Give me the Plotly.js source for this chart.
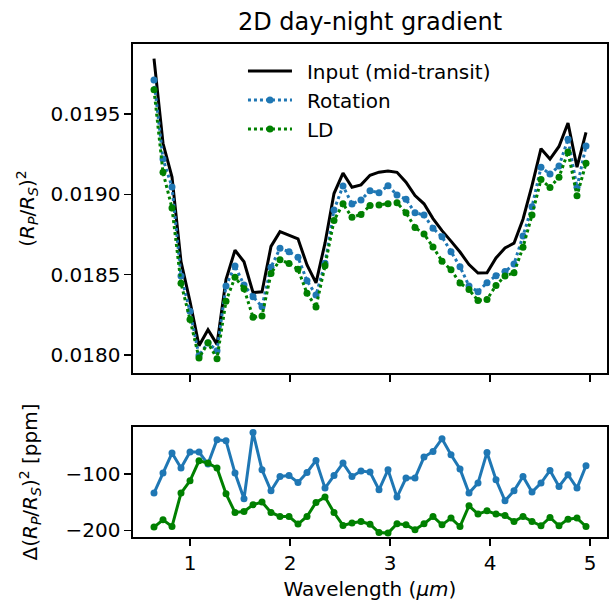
<!DOCTYPE html>
<html><head><meta charset="utf-8">
<script src="https://cdn.plot.ly/plotly-3.0.1.min.js"></script>
<style>body{margin:0;background:#fff;}</style>
</head><body><div id="chart" style="width:609px;height:601px;"></div>
<script>
const wavelength = [0.64,0.73,0.82,0.91,1.00,1.09,1.18,1.27,1.36,1.45,1.54,1.63,1.72,1.81,1.90,1.99,2.08,2.17,2.26,2.35,2.44,2.53,2.62,2.71,2.80,2.89,2.98,3.07,3.16,3.25,3.34,3.43,3.52,3.61,3.70,3.79,3.88,3.97,4.06,4.15,4.24,4.33,4.42,4.51,4.60,4.69,4.78,4.87,4.96];

const inputMidTransit = [0.019845,0.019318,0.019108,0.018581,0.018333,0.018058,0.018157,0.018066,0.018470,0.018652,0.018580,0.018389,0.018393,0.018676,0.018768,0.018745,0.018723,0.018560,0.018449,0.018696,0.019005,0.019132,0.019044,0.019059,0.019119,0.019138,0.019146,0.019137,0.019076,0.018993,0.018941,0.018849,0.018774,0.018709,0.018641,0.018563,0.018510,0.018512,0.018604,0.018666,0.018696,0.018845,0.019055,0.019284,0.019220,0.019298,0.019444,0.019169,0.019386];

const rotation = [0.019712,0.019220,0.019046,0.018492,0.018272,0.017997,0.018075,0.018027,0.018430,0.018554,0.018436,0.018363,0.018301,0.018546,0.018664,0.018643,0.018608,0.018462,0.018373,0.018571,0.018903,0.019052,0.018940,0.018965,0.019023,0.019010,0.019054,0.018996,0.018969,0.018886,0.018871,0.018789,0.018736,0.018643,0.018550,0.018430,0.018394,0.018450,0.018494,0.018519,0.018566,0.018741,0.018923,0.019168,0.019127,0.019176,0.019343,0.019044,0.019301];

const limbDarkening = [0.019651,0.019137,0.018915,0.018447,0.018221,0.017981,0.018076,0.017977,0.018335,0.018484,0.018413,0.018235,0.018243,0.018507,0.018593,0.018570,0.018534,0.018384,0.018299,0.018555,0.018837,0.018941,0.018857,0.018875,0.018930,0.018934,0.018941,0.018948,0.018886,0.018794,0.018753,0.018673,0.018584,0.018530,0.018448,0.018407,0.018339,0.018346,0.018433,0.018492,0.018512,0.018670,0.018871,0.019092,0.019043,0.019107,0.019264,0.018991,0.019193];

const deltaRotation = [-133.7,-98.2,-62.7,-89.3,-60.9,-60.9,-82.2,-39.1,-40.9,-98.2,-143.9,-26.1,-92.4,-129.7,-104.3,-102.5,-114.9,-97.2,-75.8,-124.9,-102.5,-80.5,-104.3,-94.5,-96.4,-127.9,-92.4,-140.9,-107.1,-107.1,-69.8,-59.9,-37.3,-65.7,-91.1,-133.7,-116.0,-61.6,-110.1,-147.4,-129.7,-104.3,-132.0,-116.0,-93.6,-122.0,-101.2,-124.9,-85.3];

const deltaLD = [-194.1,-181.2,-193.1,-133.7,-111.9,-76.4,-80.5,-89.3,-135.0,-168.2,-166.4,-154.5,-149.7,-168.2,-175.3,-175.3,-188.8,-175.3,-150.4,-140.9,-168.2,-191.2,-187.0,-184.2,-189.0,-203.7,-204.8,-188.3,-190.1,-198.9,-188.3,-175.3,-190.1,-178.2,-193.1,-156.3,-171.0,-165.2,-171.0,-173.5,-184.2,-175.3,-184.2,-191.8,-177.1,-191.8,-180.0,-178.2,-193.1];

const seriesNames = ['Input (mid-transit)', 'Rotation', 'LD'];
const topTicks = [0.0180,0.0185,0.0190,0.0195];
const bottomTicks = [-200,-100];
const xTicks = [1,2,3,4,5];

const BLUE = '#1f77b4', GREEN = '#008000';
const FONT = 'DejaVu Sans, sans-serif';
const PAD = '\u2002';

const traces = [
  {x: wavelength, y: inputMidTransit, type: 'scatter', mode: 'lines', name: PAD + seriesNames[0],
   line: {color: 'black', width: 3}, xaxis: 'x', yaxis: 'y'},
  {x: wavelength, y: rotation, type: 'scatter', mode: 'lines+markers', name: PAD + seriesNames[1],
   line: {color: BLUE, width: 3, dash: 'dot'}, marker: {color: BLUE, size: 7}, xaxis: 'x', yaxis: 'y'},
  {x: wavelength, y: limbDarkening, type: 'scatter', mode: 'lines+markers', name: PAD + seriesNames[2],
   line: {color: GREEN, width: 3, dash: 'dot'}, marker: {color: GREEN, size: 7}, xaxis: 'x', yaxis: 'y'},
  {x: wavelength, y: deltaRotation, type: 'scatter', mode: 'lines+markers', showlegend: false,
   line: {color: BLUE, width: 3}, marker: {color: BLUE, size: 7}, xaxis: 'x2', yaxis: 'y2'},
  {x: wavelength, y: deltaLD, type: 'scatter', mode: 'lines+markers', showlegend: false,
   line: {color: GREEN, width: 3}, marker: {color: GREEN, size: 7}, xaxis: 'x2', yaxis: 'y2'}
];

const axisCommon = {
  showgrid: false, zeroline: false, showline: true, linecolor: 'black', linewidth: 1.6,
  mirror: true, ticks: 'outside', ticklen: 7, tickwidth: 1.6, tickcolor: 'black',
  tickfont: {family: FONT, size: 20, color: 'black'}
};

const layout = {
  width: 609, height: 601,
  paper_bgcolor: 'white', plot_bgcolor: 'white',
  margin: {l: 133, r: 2, t: 44, b: 64},
  font: {family: FONT, size: 20, color: 'black'},
  title: {text: '2D day-night gradient', font: {family: FONT, size: 24, color: 'black'},
          x: 0.5, xref: 'paper', xanchor: 'center',
          y: 1 - 22 / 601, yref: 'container', yanchor: 'middle'},
  xaxis: Object.assign({}, axisCommon, {domain: [0, 1], range: [0.43, 5.17], tickvals: xTicks,
          showticklabels: false, anchor: 'y'}),
  yaxis: Object.assign({}, axisCommon, {domain: [0.3327, 1], range: [0.017888, 0.019936],
          tickvals: topTicks, tickformat: '.4f', anchor: 'x',
          title: {text: '(<i>R<sub>P</sub></i>/<i>R<sub>S</sub></i>)<sup>2</sup>', standoff: 10,
                  font: {family: FONT, size: 20, color: 'black'}}}),
  xaxis2: Object.assign({}, axisCommon, {domain: [0, 1], range: [0.43, 5.17], tickvals: xTicks,
          anchor: 'y2',
          title: {text: 'Wavelength (<i>μm</i>)', standoff: 8, font: {family: FONT, size: 20, color: 'black'}}}),
  yaxis2: Object.assign({}, axisCommon, {domain: [0, 0.2231], range: [-211.7, -16.5],
          tickvals: bottomTicks, anchor: 'x2',
          title: {text: 'Δ(<i>R<sub>P</sub></i>/<i>R<sub>S</sub></i>)<sup>2</sup> [ppm]', standoff: 22,
                  font: {family: FONT, size: 20, color: 'black'}}}),
  legend: {x: 0.232, y: 0.985, xanchor: 'left', yanchor: 'top', bgcolor: 'rgba(255,255,255,0)',
           itemwidth: 44, font: {family: FONT, size: 20, color: 'black'}, tracegroupgap: 0}
};

Plotly.newPlot('chart', traces, layout, {displayModeBar: false, staticPlot: true});
</script>
</body></html>
